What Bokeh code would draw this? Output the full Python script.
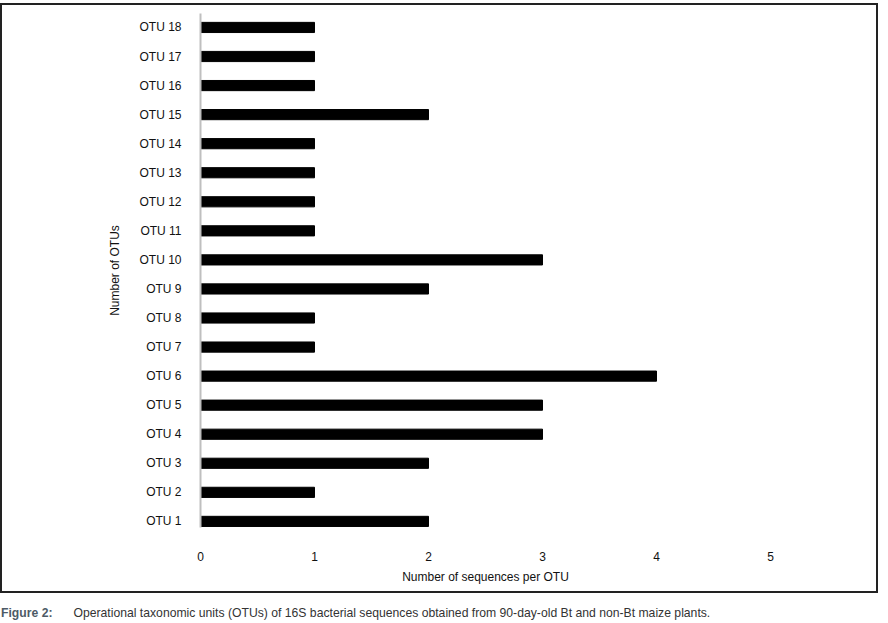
from bokeh.plotting import figure
from bokeh.models import Range1d, FixedTicker, Div, ColumnDataSource
from bokeh.layouts import column
from bokeh.embed import file_html
from bokeh.resources import INLINE

otu_labels = [f"OTU {i}" for i in range(1, 19)]
otu_pos = list(range(1, 19))
seq_counts = [2, 1, 2, 3, 3, 4, 1, 1, 2, 3, 1, 1, 1, 1, 2, 1, 1, 1]
x_ticks = [0, 1, 2, 3, 4, 5]

FONT = "'Liberation Sans', Arial, sans-serif"

src = ColumnDataSource(dict(y=otu_pos, x=seq_counts))

p = figure(width=878, height=590, output_backend="svg", toolbar_location=None,
           x_range=Range1d(0, 5), y_range=Range1d(0.79, 18.48),
           min_border_left=198, min_border_right=110, min_border_top=8, min_border_bottom=68,
           styles={"border": "2px solid #222", "margin-top": "3px"})
p.hbar(y="y", right="x", left=0, height=0.35, source=src, color="black")

p.xgrid.visible = False
p.ygrid.visible = False
p.outline_line_color = None

p.xaxis.ticker = FixedTicker(ticks=x_ticks)
p.xaxis.axis_line_color = None
p.xaxis.major_tick_line_color = None
p.xaxis.minor_tick_line_color = None
p.xaxis.major_label_standoff = 18
p.xaxis.axis_label = "Number of sequences per OTU"
p.xaxis.axis_label_standoff = 6

p.yaxis.ticker = FixedTicker(ticks=otu_pos)
p.yaxis.major_label_overrides = {i: lab for i, lab in zip(otu_pos, otu_labels)}
p.yaxis.axis_line_color = "#bfbfbf"
p.yaxis.axis_line_width = 2
p.yaxis.major_tick_line_color = None
p.yaxis.minor_tick_line_color = None
p.yaxis.major_label_standoff = 13
p.yaxis.axis_label = "Number of OTUs"
p.yaxis.axis_label_standoff = 14

for ax in (p.xaxis[0], p.yaxis[0]):
    ax.major_label_text_font = FONT
    ax.major_label_text_font_size = "12px"
    ax.major_label_text_color = "#111111"
    ax.axis_label_text_font = FONT
    ax.axis_label_text_font_size = "12px"
    ax.axis_label_text_font_style = "normal"
    ax.axis_label_text_color = "#111111"

caption = Div(
    text=("<span style=\"font-weight:bold;color:#4d5a66;\">Figure 2:</span>"
          "<span style=\"display:inline-block;width:21px\"></span>"
          "<span style=\"color:#333;\">Operational taxonomic units (OTUs) of 16S bacterial sequences "
          "obtained from 90-day-old Bt and non-Bt maize plants.</span>"),
    width=870, height=20,
    styles={"font-family": FONT, "font-size": "12.2px", "margin-top": "12px", "margin-left": "1px"})

layout = column(p, caption)
open("out.html", "w").write(file_html(layout, INLINE))
